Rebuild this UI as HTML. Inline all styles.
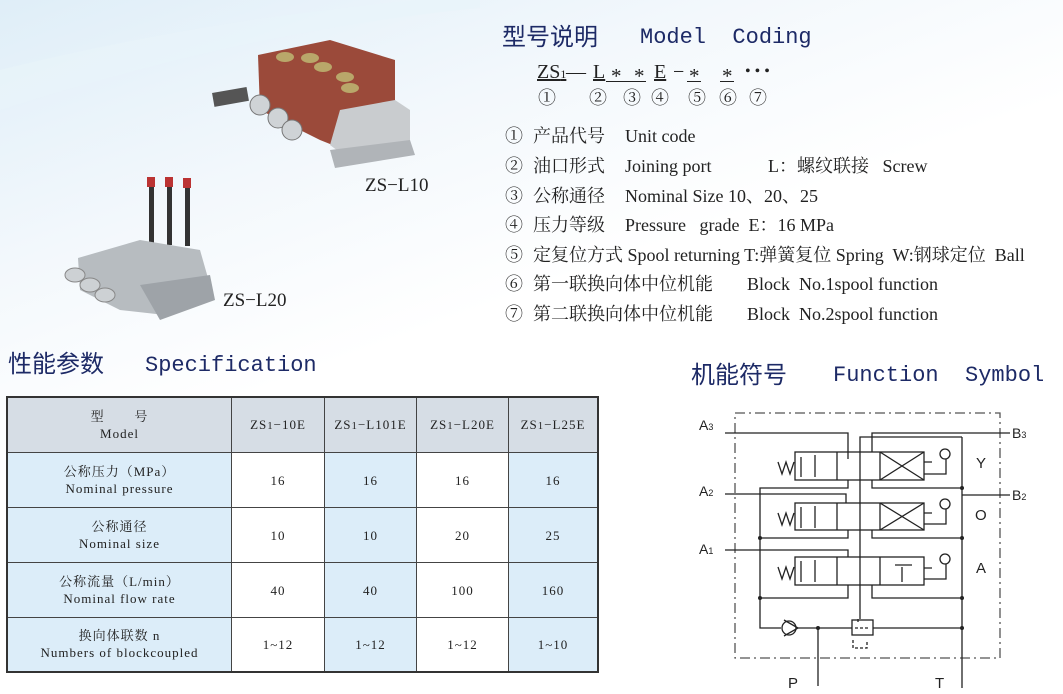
<!DOCTYPE html>
<html><head><meta charset="utf-8">
<style>
body{margin:0}
#p{position:relative;width:1063px;height:694px;overflow:hidden;background:linear-gradient(160deg,#dfeef8 0%,#f3f8fc 25%,#fff 45%,#fff 100%);font-family:"Liberation Serif","Noto Serif CJK SC",serif;color:#222}
.a{position:absolute;white-space:nowrap}
.h{font-family:"Liberation Sans","Noto Sans CJK SC",sans-serif;color:#1d2a66;font-size:24px;line-height:30px}
.m{font-family:"Liberation Mono",monospace;color:#1d2a66;font-size:22px;line-height:30px}
.li{font-size:18px;line-height:22px}
.c{font-size:20px;line-height:24px}
.s{font-size:21px;line-height:24px;top:64px}
.u{top:81px;width:14px;border-top:1px solid #222}
.n{font-size:18px;line-height:22px;top:87px}
table{position:absolute;left:6px;top:396px;border-collapse:collapse;border:2px solid #333}
td{border:1.5px solid #444;text-align:center;font-size:13px;letter-spacing:1px;line-height:17px;padding:0}
tr.hd td{background:#d6dde5;height:54px}
.b{background:#dcedf9}.w{background:#fff}
</style></head><body><div id="p">
<svg class="a" style="left:0;top:0" width="480" height="340">
 <path d="M0 70 Q200 20 420 0 L480 0 L480 8 Q250 30 0 110Z" fill="#e8f3fa" opacity=".7"/>
 <polygon points="258,55 330,40 395,60 395,110 375,150 345,150 320,140 260,110" fill="#9b4a3a"/>
 <polygon points="340,110 395,100 410,110 410,150 350,160 330,145" fill="#c9cccf"/>
 <polygon points="330,150 410,140 415,155 335,168" fill="#b0b4b8"/>
 <g fill="#b9a76a"><ellipse cx="285" cy="57" rx="9" ry="5"/><ellipse cx="310" cy="58" rx="9" ry="5"/><ellipse cx="323" cy="67" rx="9" ry="5"/><ellipse cx="345" cy="77" rx="9" ry="5"/><ellipse cx="350" cy="88" rx="9" ry="5"/></g>
 <g fill="#cfd3d6" stroke="#777"><circle cx="260" cy="105" r="10"/><circle cx="278" cy="118" r="10"/><circle cx="292" cy="130" r="10"/></g>
 <rect x="213" y="90" width="35" height="14" fill="#555" transform="rotate(-10 230 97)"/>
 <g fill="#333"><rect x="149" y="185" width="5" height="65"/><rect x="167" y="185" width="5" height="60"/><rect x="185" y="186" width="5" height="60"/></g>
 <g fill="#b33"><rect x="147" y="177" width="8" height="10"/><rect x="165" y="177" width="8" height="10"/><rect x="183" y="178" width="8" height="10"/></g>
 <polygon points="78,258 140,240 200,250 210,285 165,315 120,310 80,290" fill="#b7bcc0"/>
 <polygon points="140,285 210,275 215,300 160,320" fill="#9ea3a8"/>
 <g fill="#cdd1d4" stroke="#888"><ellipse cx="75" cy="275" rx="10" ry="7"/><ellipse cx="90" cy="285" rx="10" ry="7"/><ellipse cx="105" cy="295" rx="10" ry="7"/></g>
</svg>
<div class="a" style="left:365px;top:175px;font-size:19px">ZS−L10</div>
<div class="a" style="left:223px;top:290px;font-size:19px">ZS−L20</div>
<div class="a h" style="left:502px;top:23px">型号说明</div>
<div class="a m" style="left:640px;top:23px">Model&nbsp; Coding</div>
<div class="a c" style="left:537px;top:60px"><u>ZS<span style="font-size:12px">1</span></u></div>
<div class="a c" style="left:566px;top:60px">—</div>
<div class="a c" style="left:593px;top:60px"><u>L</u></div>
<div class="a u" style="left:606px;width:40px"></div>
<div class="a s" style="left:611px">*</div>
<div class="a s" style="left:634px">*</div>
<div class="a c" style="left:654px;top:60px"><u>E</u></div>
<div class="a c" style="left:673px;top:60px">−</div>
<div class="a u" style="left:687px"></div>
<div class="a s" style="left:689px">*</div>
<div class="a u" style="left:720px"></div>
<div class="a s" style="left:722px">*</div>
<div class="a c" style="left:745px;top:60px;font-size:16px">• • •</div>
<div class="a n" style="left:538px">①</div><div class="a n" style="left:589px">②</div><div class="a n" style="left:623px">③</div><div class="a n" style="left:651px">④</div><div class="a n" style="left:688px">⑤</div><div class="a n" style="left:719px">⑥</div><div class="a n" style="left:749px">⑦</div>
<div class="a li" style="left:505px;top:125px">①</div><div class="a li" style="left:533px;top:125px">产品代号</div><div class="a li" style="left:625px;top:125px">Unit code</div>
<div class="a li" style="left:505px;top:155px">②</div><div class="a li" style="left:533px;top:155px">油口形式</div><div class="a li" style="left:625px;top:155px">Joining port</div><div class="a li" style="left:768px;top:155px">L：螺纹联接&nbsp;&nbsp; Screw</div>
<div class="a li" style="left:505px;top:185px">③</div><div class="a li" style="left:533px;top:185px">公称通径</div><div class="a li" style="left:625px;top:185px">Nominal Size 10、20、25</div>
<div class="a li" style="left:505px;top:214px">④</div><div class="a li" style="left:533px;top:214px">压力等级</div><div class="a li" style="left:625px;top:214px">Pressure&nbsp;&nbsp; grade&nbsp; E：16 MPa</div>
<div class="a li" style="left:505px;top:244px">⑤</div><div class="a li" style="left:533px;top:244px">定复位方式 Spool returning T:弹簧复位 Spring&nbsp; W:钢球定位&nbsp; Ball</div>
<div class="a li" style="left:505px;top:273px">⑥</div><div class="a li" style="left:533px;top:273px">第一联换向体中位机能</div><div class="a li" style="left:747px;top:273px">Block&nbsp; No.1spool function</div>
<div class="a li" style="left:505px;top:303px">⑦</div><div class="a li" style="left:533px;top:303px">第二联换向体中位机能</div><div class="a li" style="left:747px;top:303px">Block&nbsp; No.2spool function</div>
<div class="a h" style="left:8px;top:350px">性能参数</div>
<div class="a m" style="left:145px;top:351px">Specification</div>
<table>
<tr class="hd"><td style="width:223px">型&nbsp;&nbsp;&nbsp;&nbsp;&nbsp;&nbsp; 号<br>Model</td><td style="width:92px">ZS<small>1</small>−10E</td><td style="width:91px">ZS<small>1</small>−L101E</td><td style="width:91px">ZS<small>1</small>−L20E</td><td style="width:88px">ZS<small>1</small>−L25E</td></tr>
<tr style="height:55px"><td class="b">公称压力（MPa）<br>Nominal pressure</td><td class="w">16</td><td class="b">16</td><td class="w">16</td><td class="b">16</td></tr>
<tr style="height:55px"><td class="b">公称通径<br>Nominal size</td><td class="w">10</td><td class="b">10</td><td class="w">20</td><td class="b">25</td></tr>
<tr style="height:55px"><td class="b">公称流量（L/min）<br>Nominal flow rate</td><td class="w">40</td><td class="b">40</td><td class="w">100</td><td class="b">160</td></tr>
<tr style="height:54px"><td class="b">换向体联数 n<br>Numbers of blockcoupled</td><td class="w">1~12</td><td class="b">1~12</td><td class="w">1~12</td><td class="b">1~10</td></tr>
</table>
<div class="a h" style="left:691px;top:361px">机能符号</div>
<div class="a m" style="left:833px;top:361px">Function&nbsp; Symbol</div>
<svg class="a" style="left:0;top:0" width="1063" height="694" font-family="Liberation Sans" font-size="14" fill="none" stroke="#222" stroke-width="1.3">
 <rect x="735" y="413" width="265" height="245" stroke-dasharray="10 4 2 4" stroke="#555"/>
 <g fill="#222" stroke="none">
  <text x="699" y="430">A<tspan font-size="9">3</tspan></text><text x="699" y="496">A<tspan font-size="9">2</tspan></text><text x="699" y="554">A<tspan font-size="9">1</tspan></text>
  <text x="1012" y="438">B<tspan font-size="9">3</tspan></text><text x="1012" y="500">B<tspan font-size="9">2</tspan></text>
  <text x="976" y="468" font-size="15">Y</text><text x="975" y="520" font-size="15">O</text><text x="976" y="573" font-size="15">A</text>
  <text x="788" y="688" font-size="15">P</text><text x="935" y="688" font-size="15">T</text>
  <circle cx="760" cy="538" r="2"/><circle cx="760" cy="598" r="2"/><circle cx="962" cy="488" r="2"/><circle cx="962" cy="538" r="2"/><circle cx="962" cy="598" r="2"/><circle cx="962" cy="628" r="2"/><circle cx="818" cy="628" r="2"/>
 </g>
 <path d="M725 433H848V459M872 452V433H1010M725 494H846V503M962 495H1010M725 550H848V557"/>
 <path d="M962 437H860V619"/><path d="M858 619v4" stroke-dasharray="3 2"/>
 <path d="M848 480V488H760V628H781M848 530V538H760M848 585V598H760M872 480V488H962M872 530V538H962M872 585V598H962M962 437V688M798 628H852M873 628H962M818 628V686"/>
 <g>
  <rect x="795" y="452" width="129" height="28"/><path d="M837 452V480M880 452V480M880 452L924 480M924 452L880 480"/>
  <rect x="795" y="503" width="129" height="27"/><path d="M837 503V530M880 503V530M880 503L924 530M924 503L880 530"/>
  <rect x="795" y="557" width="129" height="28"/><path d="M837 557V585M880 557V585M902 567V582M895 565H912"/>
  <path d="M801 477V457M815 455V477M801 528V507M815 506V528M801 582V561M815 560V582"/>
  <path d="M778 462l4 12 4-12 4 12 4-12M778 513l4 12 4-12 4 12 4-12M778 567l4 12 4-12 4 12 4-12"/>
  <path d="M924 462h8M924 474h22V459M924 513h8M924 524h22V509M924 568h8M924 579h22V564"/>
  <circle cx="945" cy="454" r="5"/><circle cx="945" cy="504" r="5"/><circle cx="945" cy="559" r="5"/>
 </g>
 <circle cx="789" cy="628" r="7"/><path d="M784 620L798 628L784 636"/>
 <rect x="852" y="620" width="21" height="15"/><path d="M855 628h15M853 640v8h14v-8" stroke-dasharray="3 2"/>
</svg>
</div></body></html>
